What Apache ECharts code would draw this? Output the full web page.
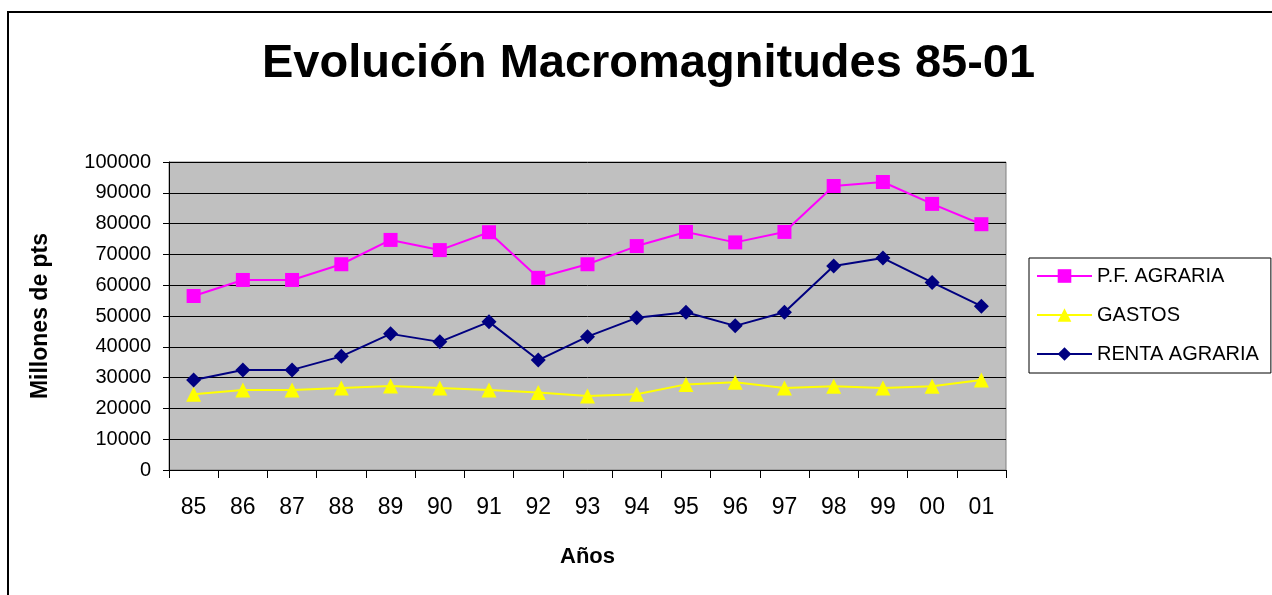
<!DOCTYPE html>
<html>
<head>
<meta charset="utf-8">
<script src="https://cdn.jsdelivr.net/npm/echarts@6/dist/echarts.min.js"></script>
<style>
  html, body { margin: 0; padding: 0; background: #fff; }
  #chart { width: 1272px; height: 595px; }
</style>
</head>
<body>
<div id="chart"></div>
<script>
// años (categorias)
var years = ['85', '86', '87', '88', '89', '90', '91', '92', '93', '94', '95', '96', '97', '98', '99', '00', '01']
// millones de pts
var pfAgraria = [56500, 61700, 61700, 66800, 74700, 71400, 77200, 62400, 66800, 72700, 77300, 73900, 77300, 92200, 93500, 86400, 79800]
var gastos = [24600, 26000, 26000, 26600, 27300, 26600, 26000, 25200, 24000, 24600, 27800, 28500, 26600, 27200, 26600, 27200, 29200]
var rentaAgraria = [29200, 32500, 32500, 36900, 44200, 41600, 48100, 35700, 43300, 49400, 51200, 46800, 51200, 66200, 68800, 60900, 53200]
var yTicks = { min: 0, max: 100000, interval: 10000 }

var font = 'Liberation Sans, Arial, sans-serif'
var chart = echarts.init(document.getElementById('chart'))

var option = {
  backgroundColor: '#ffffff',
  animation: false,
  textStyle: { fontFamily: font, color: '#000' },
  graphic: [
    {
      type: 'rect',
      z: -1,
      shape: { x: 8, y: 12, width: 1400, height: 700 },
      style: { fill: 'none', stroke: '#000', lineWidth: 2 }
    }
  ],
  title: {
    text: 'Evolución Macromagnitudes 85-01',
    left: 257,
    top: 36,
    textStyle: { fontFamily: font, fontSize: 47, fontWeight: 'bold', color: '#000' }
  },
  legend: {
    orient: 'vertical',
    left: 1029,
    top: 258,
    padding: [8, 12, 9, 7],
    itemWidth: 55,
    itemHeight: 17,
    itemGap: 19,
    backgroundColor: '#fff',
    borderColor: '#000',
    borderWidth: 1,
    textStyle: { fontFamily: font, fontSize: 20, color: '#000' },
    data: ['P.F. AGRARIA', 'GASTOS', 'RENTA AGRARIA']
  },
  grid: {
    left: 169,
    right: 266,
    top: 162,
    bottom: 125,
    show: true,
    backgroundColor: '#c0c0c0',
    borderColor: '#808080',
    borderWidth: 1
  },
  xAxis: {
    type: 'category',
    data: years,
    boundaryGap: true,
    name: 'Años',
    nameLocation: 'middle',
    nameGap: 76,
    nameTextStyle: { fontFamily: font, fontSize: 22, fontWeight: 'bold', color: '#000' },
    axisLine: { lineStyle: { color: '#000', width: 1 } },
    axisTick: { show: true, length: 8, alignWithLabel: false, lineStyle: { color: '#000' } },
    axisLabel: { fontFamily: font, fontSize: 23, color: '#000', margin: 26 },
    splitLine: { show: false }
  },
  yAxis: {
    type: 'value',
    min: yTicks.min,
    max: yTicks.max,
    interval: yTicks.interval,
    name: 'Millones de pts',
    nameLocation: 'middle',
    nameRotate: 90,
    nameGap: 117,
    nameTextStyle: { fontFamily: font, fontSize: 23, fontWeight: 'bold', color: '#000' },
    axisLine: { show: true, lineStyle: { color: '#000', width: 1 } },
    axisTick: { show: true, length: 6, lineStyle: { color: '#000' } },
    axisLabel: {
      fontFamily: font,
      fontSize: 20,
      color: '#000',
      margin: 18,
      formatter: function (value) {
        return String(value)
      }
    },
    splitLine: { show: true, lineStyle: { color: '#000', width: 1 } }
  },
  series: [
    {
      name: 'P.F. AGRARIA',
      type: 'line',
      data: pfAgraria,
      symbol: 'rect',
      symbolSize: 14,
      color: '#ff00ff',
      lineStyle: { color: '#ff00ff', width: 2 },
      itemStyle: { color: '#ff00ff' }
    },
    {
      name: 'GASTOS',
      type: 'line',
      data: gastos,
      symbol: 'triangle',
      symbolSize: 15,
      color: '#ffff00',
      lineStyle: { color: '#ffff00', width: 2 },
      itemStyle: { color: '#ffff00' }
    },
    {
      name: 'RENTA AGRARIA',
      type: 'line',
      data: rentaAgraria,
      symbol: 'diamond',
      symbolSize: 15,
      color: '#000080',
      lineStyle: { color: '#000080', width: 2 },
      itemStyle: { color: '#000080' }
    }
  ]
}

chart.setOption(option)
</script>
</body>
</html>
